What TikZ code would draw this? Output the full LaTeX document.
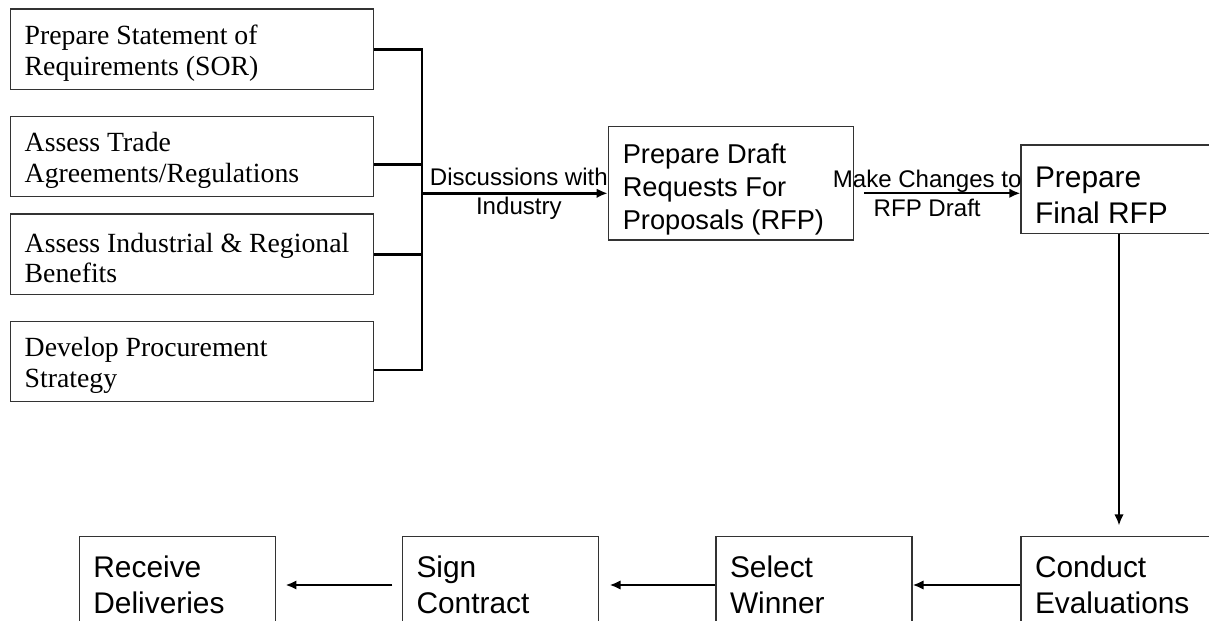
\documentclass[tikz,border=0pt]{standalone}
\usepackage{fontspec}
\setmainfont{Liberation Serif}
\setsansfont{Liberation Sans}
\usetikzlibrary{arrows.meta}

\begin{document}
\begin{tikzpicture}[
    x=0.02cm, y=-0.02cm,
    box/.style={draw=black!80, line width=0.7pt, align=flush left, inner ysep=0pt},
    drop/.style={execute at begin node={\rule{0pt}{#1}}},
    task/.style={box, drop=15.3pt, minimum height=1.61cm, inner xsep=0.28cm, text width=6.7cm,
        font=\fontsize{15.8}{17.6}\selectfont},
    draftbox/.style={box, drop=18pt, minimum height=2.27cm, inner xsep=0.29cm, text width=4.32cm,
        font=\sffamily\fontsize{15.5}{18.7}\selectfont},
    stage/.style={box, minimum height=#1, inner xsep=0.28cm, text width=3.36cm,
        font=\sffamily\fontsize{17}{20.5}\selectfont},
    lbl/.style={align=center, inner sep=0pt, font=\sffamily\fontsize{13.7}{16.5}\selectfont},
    bus/.style={line width=1.6pt},
    flow/.style={line width=#1, -{Latex[length=0.22cm, width=0.19cm]}},
    flow/.default=1.5pt
]
\useasboundingbox (0,0) rectangle (1209,621);
\clip (0,0) rectangle (1209,621);

% Vorbereitung
\node[task] (sor) at (192.2, 49.2) {Prepare Statement of\\Requirements (SOR)};
\node[task] (trade) at (192.2, 156.5) {Assess Trade\\Agreements/Regulations};
\node[task] (indreg) at (192.2, 254.2) {Assess Industrial \& Regional\\Benefits};
\node[task] (proc) at (192.2, 361.5) {Develop Procurement\\Strategy};

\coordinate (bus) at (422, 193.3);
\draw[bus] (sor.east) -| (bus);
\draw[bus] ([yshift=-0.164cm]trade.east) -| (bus);
\draw[bus] (indreg.east) -| (bus);
\draw[bus] ([yshift=-0.17cm]proc.east) -| (bus);

% RFP
\node[draftbox] (draft) at (730.8, 183.3) {Prepare Draft\\Requests For\\Proposals (RFP)};
\node[stage=1.77cm, drop=19pt] (final) at (1119, 189.2) {Prepare\\Final RFP};

\draw[flow] (bus) -- (bus -| draft.west)
    node[lbl, midway, xshift=0.08cm] (disc) {Discussions with\\Industry};
\draw[flow=1.3pt, shorten <=0.2cm] ([yshift=-0.2cm]draft.east) -- ([yshift=-0.2cm]draft.east -| final.west)
    node[lbl, midway, xshift=-0.2cm] (chg) {Make Changes to\\RFP Draft};

% Vergabe
\node[stage=1.94cm] (conduct) at (1119, 585) {Conduct\\Evaluations};
\node[stage=1.94cm] (select) at (814, 585) {Select\\Winner};
\node[stage=1.94cm] (sign) at (500.5, 585) {Sign\\Contract};
\node[stage=1.94cm] (recv) at (177.4, 585) {Receive\\Deliveries};

\draw[flow=1.1pt, shorten >=0.21cm] (final) -- (conduct);
\draw[flow=1.6pt] (conduct) -- (select);
\draw[flow=1.6pt, shorten >=0.21cm] (select) -- (sign);
\draw[flow=1.6pt, shorten <=0.19cm, shorten >=0.19cm] (sign) -- (recv);
\end{tikzpicture}
\end{document}
